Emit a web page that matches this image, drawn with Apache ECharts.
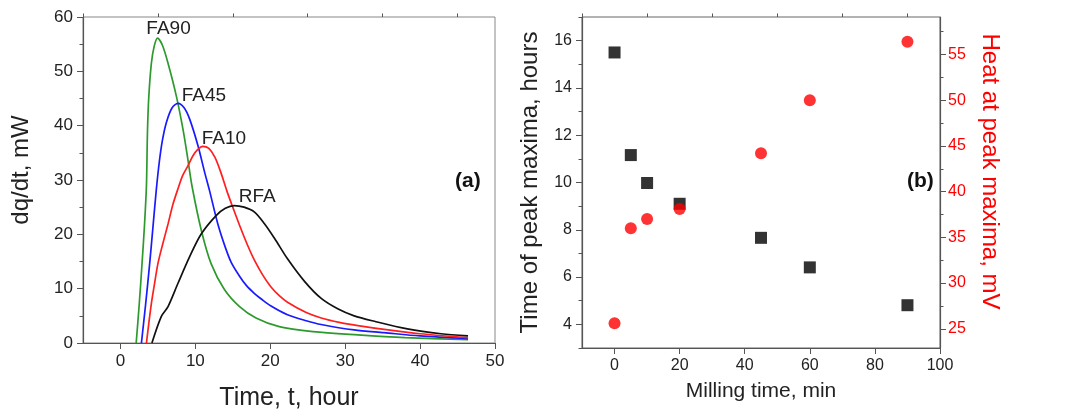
<!DOCTYPE html>
<html>
<head>
<meta charset="utf-8">
<title>Heat flow and peak maxima</title>
<script src="https://cdn.jsdelivr.net/npm/echarts@6/dist/echarts.min.js"></script>
<style>
  html, body { margin: 0; padding: 0; background: #fff; }
  #chart { width: 1091px; height: 416px; }
</style>
</head>
<body>
<div id="chart"></div>
<script>
// Panel (a): heat flow curves, [time in hours, dq/dt in mW]
const fa90 = [[2.1, 0], [2.5, 7], [2.88, 14.6], [3.2, 21.5], [3.47, 29], [3.6, 38.5], [3.77, 45.0], [4.13, 51.5],
  [4.5, 54.6], [4.95, 56.1], [5.6, 54.8], [6.35, 51.5], [7.47, 45.4], [8.35, 39.3], [9.0, 33.8], [9.55, 28.9],
  [10.8, 20.7], [12.1, 14.6], [13.9, 9.8], [15.9, 6.7], [18.1, 4.6], [21.2, 3.0], [25.7, 2.1], [31.7, 1.5],
  [38, 1.0], [46.4, 0.6]];
const fa45 = [[2.8, 0], [3.35, 7], [3.9, 14.6], [4.35, 21.5], [4.8, 28.4], [5.2, 33.5], [5.6, 37.3], [6.13, 40.6],
  [6.9, 43.3], [7.68, 44.1], [8.5, 43.3], [9.24, 41.2], [10.35, 36.3], [11.24, 31.4], [11.9, 28.0], [13.0, 21.9],
  [14.0, 17.6], [14.8, 14.8], [15.9, 12.3], [16.8, 10.6], [17.9, 9.1], [18.8, 8.1], [20.1, 6.8], [22.3, 5.2],
  [24.8, 4.1], [26.8, 3.4], [31.2, 2.4], [35.2, 1.9], [40, 1.3], [46.4, 0.8]];
const fa10 = [[3.47, 0], [3.8, 3.8], [4.13, 7.3], [4.5, 10.5], [5.0, 14.6], [5.6, 18], [6.35, 21.9], [7.0, 25.5],
  [7.68, 28.4], [8.3, 30.8], [9.0, 32.6], [9.7, 34.5], [10.3, 35.6], [11.0, 36.2], [11.8, 35.8], [12.6, 34.2],
  [13.4, 31.4], [14.2, 28.0], [15.1, 24.6], [16.0, 21.3], [17.0, 17.9], [17.9, 15.2], [19.0, 12.5], [20.1, 10.3],
  [21.2, 8.7], [22.3, 7.5], [24.8, 5.6], [26.8, 4.6], [29.2, 3.8], [31.7, 3.2], [35.2, 2.5], [40, 1.7], [46.4, 1.0]];
const rfa = [[4.2, 0], [5.46, 4.9], [6.35, 6.7], [7.68, 11], [9.24, 15.9], [10.8, 20.1], [12.8, 23.5], [14.0, 24.8],
  [15.2, 25.3], [16.5, 25.0], [17.9, 24.1], [19.2, 22.0], [20.6, 19.2], [22.3, 15.5], [24.6, 11.3], [26.8, 8.2],
  [29.0, 6.3], [31.2, 5.0], [33.9, 4.0], [38.3, 2.6], [42.8, 1.7], [46.4, 1.3]];
const curveNames = ["FA90", "FA45", "FA10", "RFA"];
const curveColors = ["#2e9a2e", "#1a1aff", "#ff1f1f", "#111111"];

// Panel (b): milling time vs peak time / peak heat
const millingTime = [0, 5, 10, 20, 45, 60, 90];
const peakTime = [15.5, 11.16, 9.98, 9.1, 7.66, 6.41, 4.81];
const peakHeat = [25.6, 36.0, 37.0, 38.1, 44.2, 50.0, 56.4];

// tick labels
const ticksAX = [0, 10, 20, 30, 40, 50];
const minorAX = [-5, 5, 15, 25, 35, 45];
const ticksBX = [0, 20, 40, 60, 80, 100];
const minorBX = [-10, 10, 30, 50, 70, 90];
const ticksBY = [4, 6, 8, 10, 12, 14, 16];
const minorBY = [3, 5, 7, 9, 11, 13, 15, 17];
const ticksBY2 = [25, 30, 35, 40, 45, 50, 55];
const minorBY2 = [27.5, 32.5, 37.5, 42.5, 47.5, 52.5, 57.5];

const FONT = "Liberation Sans, Arial, sans-serif";
const AXIS_COLOR = "#555";

const chart = echarts.init(document.getElementById("chart"));

function mainAxis(extra) {
  return Object.assign({
    type: "value",
    axisLine: { show: true, onZero: false, lineStyle: { color: AXIS_COLOR, width: 1.2 } },
    axisTick: { show: true, length: 6, lineStyle: { color: AXIS_COLOR } },
    splitLine: { show: false },
    nameLocation: "middle",
    nameTextStyle: { fontFamily: FONT, color: "#222" },
  }, extra);
}

// overlay axis: only draws the short minor ticks
function minorAxis(extra, values) {
  return Object.assign({
    type: "value",
    axisLine: { show: false, onZero: false },
    axisLabel: { show: false },
    axisTick: { show: true, length: 3.5, customValues: values, lineStyle: { color: AXIS_COLOR } },
    splitLine: { show: false },
  }, extra);
}

const tickLabel = (size, color) => ({
  fontFamily: FONT, fontSize: size, color: color || "#222",
});

const curves = [fa90, fa45, fa10, rfa].map((d, i) => ({
  name: curveNames[i],
  type: "line",
  xAxisIndex: 0,
  yAxisIndex: 0,
  data: d,
  showSymbol: false,
  smooth: 0.3,
  lineStyle: { color: curveColors[i], width: 1.7 },
  itemStyle: { color: curveColors[i] },
  markPoint: {
    symbol: "circle",
    symbolSize: 1,
    itemStyle: { color: "rgba(0,0,0,0)" },
    label: {
      show: true,
      position: "top",
      formatter: curveNames[i],
      fontFamily: FONT,
      fontSize: 19,
      color: "#222",
      offset: [[11, 6], [26, 7], [21, 7], [23, 6]][i],
    },
    data: [{ type: "max", valueDim: "y" }],
  },
}));

chart.setOption({
  backgroundColor: "#fff",
  animation: false,
  grid: [
    { left: 83, top: 17, width: 412, height: 328, show: true, borderColor: "#888", borderWidth: 1 },
    { left: 582, top: 17, width: 358, height: 331, show: true, borderColor: "#666", borderWidth: 1 },
  ],
  xAxis: [
    mainAxis({
      gridIndex: 0, min: -5, max: 50,
      name: "Time, t, hour", nameGap: 43,
      nameTextStyle: { fontFamily: FONT, fontSize: 25, color: "#222" },
      axisTick: { length: 6, customValues: ticksAX, lineStyle: { color: AXIS_COLOR } },
      axisLabel: Object.assign({ customValues: ticksAX, margin: 10 }, tickLabel(17)),
    }),
    minorAxis({ gridIndex: 0, min: -5, max: 50 }, minorAX),
    mainAxis({
      gridIndex: 1, min: -10, max: 100,
      name: "Milling time, min", nameGap: 33,
      nameTextStyle: { fontFamily: FONT, fontSize: 21, color: "#222" },
      axisTick: { length: 6, customValues: ticksBX, lineStyle: { color: AXIS_COLOR } },
      axisLabel: Object.assign({ customValues: ticksBX, margin: 10 }, tickLabel(16)),
    }),
    minorAxis({ gridIndex: 1, min: -10, max: 100 }, minorBX),
  ],
  yAxis: [
    mainAxis({
      gridIndex: 0, min: 0, max: 60, interval: 10,
      name: "dq/dt, mW", nameGap: 50,
      nameTextStyle: { fontFamily: FONT, fontSize: 24, color: "#222", padding: [0, 0, 0, 20] },
      minorTick: { show: true, splitNumber: 2, length: 3.5, lineStyle: { color: AXIS_COLOR } },
      axisLabel: Object.assign({ margin: 10 }, tickLabel(17)),
    }),
    mainAxis({
      gridIndex: 1, min: 3, max: 17, position: "left",
      name: "Time of peak maxima, hours", nameGap: 40,
      nameTextStyle: { fontFamily: FONT, fontSize: 24, color: "#222" },
      axisTick: { length: 6, customValues: ticksBY, lineStyle: { color: AXIS_COLOR } },
      axisLabel: Object.assign({ customValues: ticksBY, margin: 10 }, tickLabel(16)),
    }),
    minorAxis({ gridIndex: 1, min: 3, max: 17, position: "left" }, minorBY),
    mainAxis({
      gridIndex: 1, min: 22.9, max: 59.1, position: "right",
      name: "Heat at peak maxima, mV", nameGap: 38, nameRotate: -90,
      nameTextStyle: { fontFamily: FONT, fontSize: 24, color: "#ff0000", padding: [0, 22, 0, 0] },
      axisTick: { length: 6, customValues: ticksBY2, lineStyle: { color: AXIS_COLOR } },
      axisLabel: Object.assign({ customValues: ticksBY2, margin: 8 }, tickLabel(16, "#ff0000")),
    }),
    minorAxis({ gridIndex: 1, min: 22.9, max: 59.1, position: "right" }, minorBY2),
  ],
  graphic: [
    { type: "text", left: 455, top: 171, style: { text: "(a)", font: "bold 21px " + FONT, fill: "#111" } },
    { type: "text", left: 907, top: 171, style: { text: "(b)", font: "bold 21px " + FONT, fill: "#111" } },
  ],
  series: [
    ...curves,
    {
      name: "Peak time",
      type: "scatter",
      xAxisIndex: 2,
      yAxisIndex: 1,
      symbol: "rect",
      symbolSize: 12,
      itemStyle: { color: "#000" },
      data: millingTime.map((m, i) => [m, peakTime[i]]),
    },
    {
      name: "Peak heat",
      type: "scatter",
      xAxisIndex: 2,
      yAxisIndex: 3,
      symbol: "circle",
      symbolSize: 12,
      itemStyle: { color: "#ff0000" },
      data: millingTime.map((m, i) => [m, peakHeat[i]]),
    },
  ],
});

window.addEventListener("resize", () => chart.resize());
</script>
</body>
</html>
